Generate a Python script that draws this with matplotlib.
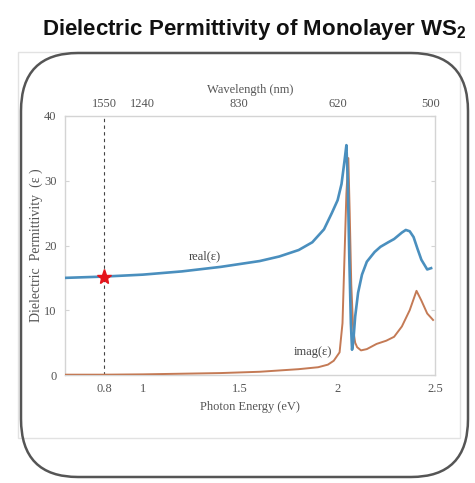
import numpy as np
import matplotlib
matplotlib.use("Agg")
import matplotlib.pyplot as plt
from matplotlib.patches import FancyBboxPatch, Rectangle

# Data -----------------------------------------------------------------------
energy_real = [0.6, 0.8, 1.0, 1.2, 1.4, 1.6, 1.7, 1.8, 1.87, 1.93, 1.97, 2.0,
               2.02, 2.035, 2.045, 2.052, 2.06, 2.068, 2.074, 2.08, 2.09, 2.105,
               2.125, 2.15, 2.19, 2.22, 2.26, 2.29, 2.33, 2.35, 2.37, 2.39,
               2.41, 2.43, 2.46, 2.48]
eps_real = [15.0, 15.2, 15.5, 16.0, 16.7, 17.6, 18.3, 19.3, 20.5, 22.5, 25.0, 27.0,
            29.5, 33.0, 35.5, 30.0, 18.0, 8.0, 3.9, 5.0, 9.0, 12.7,
            15.5, 17.5, 19.0, 19.8, 20.5, 21.0, 22.0, 22.4, 22.2, 21.3,
            19.5, 17.8, 16.3, 16.5]

energy_imag = [0.6, 0.8, 1.0, 1.2, 1.4, 1.6, 1.8, 1.9, 1.95, 1.98, 2.01, 2.025,
               2.035, 2.045, 2.055, 2.062, 2.07, 2.08, 2.09, 2.10, 2.12, 2.15,
               2.2, 2.25, 2.29, 2.33, 2.37, 2.405, 2.43, 2.46, 2.49]
eps_imag = [0.05, 0.05, 0.1, 0.2, 0.3, 0.5, 0.9, 1.2, 1.6, 2.2, 3.5, 8.0,
            18.0, 28.0, 33.5, 25.0, 14.0, 7.0, 5.0, 4.3, 3.8, 4.0,
            4.8, 5.3, 5.9, 7.5, 10.0, 13.0, 11.5, 9.5, 8.5]

energy_ticks = [0.8, 1, 1.5, 2, 2.5]
energy_labels = ["0.8", "1", "1.5", "2", "2.5"]
y_ticks = [0, 10, 20, 30, 40]
wavelengths = [1550, 1240, 830, 620, 500]

star_energy = 0.8
star_eps = 15.2

BLUE = "#4a8fbe"
ORANGE = "#c47a55"
SPINE = "#d4d4d4"
TXT = "#555555"
serif = ["Liberation Serif", "DejaVu Serif"]

fig = plt.figure(figsize=(4.75, 4.83), dpi=100)

# title
fig.text(0.535, 0.938, "Dielectric Permittivity of Monolayer WS$_\\mathregular{2}$",
         ha="center", va="center", fontsize=16, fontweight="bold",
         family=["Liberation Sans Narrow", "Liberation Sans", "DejaVu Sans"],
         color="#111111")

# faint screenshot frame and rounded outline
fig.patches.append(Rectangle((18 / 475, 1 - 438 / 483), (460 - 18) / 475, (438 - 52) / 483,
                             transform=fig.transFigure, fill=False,
                             edgecolor="#e2e2e2", linewidth=1.0, zorder=0))
fig.patches.append(FancyBboxPatch((21 / 475, 1 - 477 / 483), (468 - 21) / 475, (477 - 53) / 483,
                                  boxstyle="round,pad=0,rounding_size=0.12",
                                  transform=fig.transFigure, fill=False,
                                  edgecolor="#555555", linewidth=1.8, zorder=1))

ax = fig.add_axes([65 / 475, 1 - 375 / 483, (435 - 65) / 475, (375 - 116) / 483])
ax.set_xlim(0.6, 2.5)
ax.set_ylim(0, 40)

ax.plot(energy_imag, eps_imag, color=ORANGE, lw=1.4, zorder=3)
ax.plot(energy_real, eps_real, color=BLUE, lw=1.9, zorder=4)
ax.axvline(star_energy, color="#444444", lw=0.8, ls=(0, (3, 3)), zorder=2)
ax.plot([star_energy], [star_eps], marker="*", ms=11, color="#e5141b",
        markeredgecolor="#e5141b", zorder=5)

ax.text(1.32, 18.3, "real(ε)", ha="center", va="center", fontsize=9,
        family=serif, color="#444444")
ax.text(1.97, 3.6, "imag(ε)", ha="right", va="center", fontsize=9,
        family=serif, color="#444444")

for s in ax.spines.values():
    s.set_color(SPINE)
    s.set_linewidth(1.0)

ax.set_xticks(energy_ticks)
ax.set_xticklabels(energy_labels, family=serif, fontsize=9, color=TXT)
ax.set_yticks(y_ticks)
ax.set_yticklabels([str(v) for v in y_ticks], family=serif, fontsize=9, color=TXT)
ax.tick_params(axis="both", length=0, pad=6)
ax.tick_params(axis="y", right=True, length=3, color=SPINE, direction="in")
ax.set_xlabel("Photon Energy (eV)", family=serif, fontsize=9, color=TXT, labelpad=4)
ax.set_ylabel("Dielectric  Permittivity  (ε )", family=serif, fontsize=10,
              color=TXT, labelpad=1)

top = ax.twiny()
top.set_xlim(ax.get_xlim())
top.set_xticks([1240.0 / w for w in wavelengths])
top.set_xticklabels([str(w) for w in wavelengths], family=serif, fontsize=9, color=TXT)
top.tick_params(axis="x", length=0, pad=4)
top.set_xlabel("Wavelength (nm)", family=serif, fontsize=9, color=TXT, labelpad=4)
for s in top.spines.values():
    s.set_visible(False)

fig.savefig("out.png", dpi=100, facecolor="white")
